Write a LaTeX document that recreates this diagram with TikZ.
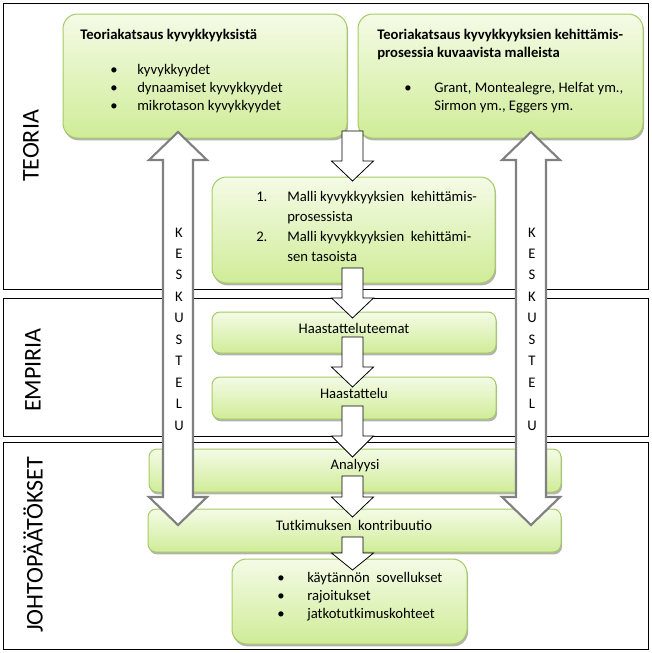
\documentclass[tikz,border=0pt]{standalone}
\usepackage{fontspec}
\setmainfont{Carlito}
\usetikzlibrary{shadows,fit,positioning}

\definecolor{boxtop}{RGB}{244,251,230}
\definecolor{boxbottom}{RGB}{208,236,152}
\definecolor{boxline}{RGB}{164,203,100}
\definecolor{talkline}{RGB}{128,128,128}

% one block arrow pointing down, drawn from a named top coordinate
% #1 top point, #2 shaft length, #3 head length
\newcommand{\downblock}[3]{%
  \draw[block arrow] (#1) ++(-10.5,0) -- ++(0,#2) -- ++(-10.5,0) -- ++(21,#3)
    -- ++(21,-#3) -- ++(-10.5,0) -- ++(0,-#2) -- cycle;}

\begin{document}
\begin{tikzpicture}[x=0.75pt,y=-0.75pt,
    panel/.style={draw=black,line width=0.75pt},
    panel label/.style={rotate=90,font=\fontsize{18}{20}\selectfont},
    green box/.style={draw=boxline,line width=0.75pt,rounded corners=11pt,
      top color=boxtop,bottom color=boxbottom,inner sep=0pt,
      drop shadow={shadow xshift=0.8pt,shadow yshift=-1.8pt,opacity=0.3,fill=black}},
    small box/.style={green box,rounded corners=6pt},
    box text/.style={font=\fontsize{11}{13.6}\selectfont,inner sep=0pt},
    list text/.style={box text,anchor=base west},
    block arrow/.style={draw=black,line width=0.6pt,fill=white,line join=miter},
    talk arrow/.style={draw=talkline,line width=1.6pt,fill=white,line join=miter},
    talk text/.style={font=\fontsize{11}{16.1}\selectfont,align=center,inner sep=0pt}]

  \useasboundingbox (0,0) rectangle (651,653);

  % Define panels
  \draw[panel] (3,3) rectangle (648.5,289);
  \draw[panel] (3,298) rectangle (648.5,436);
  \draw[panel] (3,442) rectangle (648.5,649);
  \node[panel label] (lteoria) at (31,146) {TEORIA};
  \node[panel label] (lempiria) at (33,370) {EMPIRIA};
  \node[panel label] (ljohto) at (33,545) {JOHTOPÄÄTÖKSET};

  % Define boxes
  \node[green box,fit={(63,14) (347,138)}] (teo1) {};
  \node[green box,fit={(358,14) (643,138)}] (teo2) {};
  \node[green box,fit={(212,177) (495,283)}] (malli) {};
  \node[small box,fit={(212,312) (496,353)}] (teemat) {};
  \node[small box,fit={(212,377) (496,419)}] (haast) {};
  \node[small box,fit={(149,449) (561,492)}] (analyysi) {};
  \node[small box,fit={(148,509) (561,552)}] (kontri) {};
  \node[green box,fit={(232,559) (467,644)}] (jatko) {};

  % Texts in boxes
  \node[list text,font=\fontsize{11}{13.6}\selectfont\bfseries] (teo1title) at (80,39.5)
    {Teoriakatsaus kyvykkyyksistä};
  \node[list text] (teo1list) at (110,74.5) {\begin{tabular}[t]{@{}p{20.25pt}@{}l@{}}
    \textbullet & kyvykkyydet\\ \textbullet & dynaamiset kyvykkyydet\\
    \textbullet & mikrotason kyvykkyydet\end{tabular}};
  \node[list text,font=\fontsize{11}{13.6}\selectfont\bfseries] (teo2title) at (377,39.5)
    {\begin{tabular}[t]{@{}l@{}}Teoriakatsaus kyvykkyyksien kehittämis-\\
    prosessia kuvaavista malleista\end{tabular}};
  \node[list text] (teo2list) at (404,92) {\begin{tabular}[t]{@{}p{22.5pt}@{}l@{}}
    \textbullet & Grant, Montealegre, Helfat ym.,\\ & Sirmon ym., Eggers ym.\end{tabular}};
  \node[list text] (mallilist) at (256,201.5) {\renewcommand{\arraystretch}{1.1}%
    \begin{tabular}[t]{@{}p{23.25pt}@{}l@{}}
    1. & Malli kyvykkyyksien\ \ kehittämis-\\ & prosessista\\
    2. & Malli kyvykkyyksien\ \ kehittämi-\\ & sen tasoista\end{tabular}};
  \node[box text] (teematext) at (354,328) {Haastatteluteemat};
  \node[box text] (haasttext) at (354,393) {Haastattelu};
  \node[box text] (analtext) at (355,466) {Analyysi};
  \node[box text] (kontritext) at (354,525) {Tutkimuksen\ \ kontribuutio};
  \node[list text] (jatkolist) at (277,582) {\begin{tabular}[t]{@{}p{22.5pt}@{}l@{}}
    \textbullet & käytännön\ \ sovellukset\\ \textbullet & rajoitukset\\
    \textbullet & jatkotutkimuskohteet\end{tabular}};

  % Draw block arrows between boxes
  \coordinate (a1) at (352.5,131);
  \coordinate (a2) at (352.5,268);
  \coordinate (a3) at (352.5,337);
  \coordinate (a4) at (352.5,406);
  \coordinate (a5) at (352.5,476);
  \coordinate (a6) at (352.5,537);
  \downblock{a1}{30}{20}
  \downblock{a2}{30}{20}
  \downblock{a3}{30}{20}
  \downblock{a4}{30}{21}
  \downblock{a5}{21}{20}
  \downblock{a6}{16}{17}

  % Draw discussion arrows
  \foreach \name/\xc in {talkL/178,talkR/531}{
    \draw[talk arrow] (\xc-15,160) -- (\xc-29,160) -- (\xc,132) -- (\xc+29,160)
      -- (\xc+15,160) -- (\xc+15,497) -- (\xc+29,497) -- (\xc,525) -- (\xc-29,497)
      -- (\xc-15,497) -- cycle;
    \node[talk text] (\name) at (\xc+1,329) {K\\E\\S\\K\\U\\S\\T\\E\\L\\U};
  }

\end{tikzpicture}
\end{document}
